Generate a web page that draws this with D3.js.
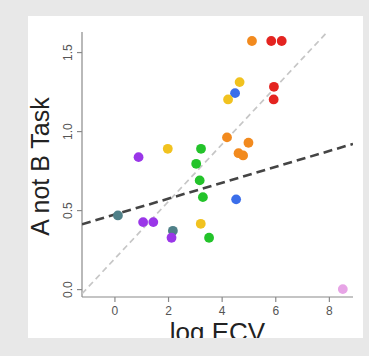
<!DOCTYPE html>
<html>
<head>
<meta charset="utf-8">
<script src="https://cdn.jsdelivr.net/npm/d3@7"></script>
<style>
  html, body { margin: 0; padding: 0; background: #e8e8e8; }
  svg { display: block; }
</style>
</head>
<body>
<svg id="chart"></svg>
<script>
// data
const logECV = [5.13, 5.85, 6.24, 4.67, 4.5, 4.24, 5.95, 5.94, 4.2, 5.0, 4.63, 4.8,
  1.99, 3.23, 0.9, 3.05, 3.18, 3.3, 4.54, 0.13, 1.07, 1.45, 2.18, 2.13, 3.22, 3.53, 8.52]
const aNotB = [1.57, 1.57, 1.57, 1.31, 1.24, 1.2, 1.28, 1.2, 0.96, 0.926, 0.86, 0.846,
  0.888, 0.888, 0.835, 0.793, 0.688, 0.582, 0.568, 0.466, 0.424, 0.424, 0.369, 0.325, 0.413, 0.325, 0.0]
const clade = ['orange', 'red', 'red', 'yellow', 'blue', 'yellow', 'red', 'red', 'orange', 'orange', 'orange', 'orange',
  'yellow', 'green', 'purple', 'green', 'green', 'green', 'blue', 'teal', 'purple', 'purple', 'teal', 'purple', 'yellow', 'green', 'pink']

const cladeColors = {
  orange: '#f28a1e', red: '#e42420', yellow: '#f1c21f', blue: '#3b6eea',
  green: '#23c32a', purple: '#9a36e8', teal: '#4f8088', pink: '#e7a4e6',
}

// fitted lines: [intercept, slope]
const fitLines = [
  { name: 'clade', coef: [0.19, 0.181], color: '#c6c6c6', width: 1.7, dash: '6,4' },
  { name: 'all', coef: [0.471, 0.0503], color: '#444', width: 2.6, dash: '9,5' },
]

const xTicks = [0, 2, 4, 6, 8]
const yTicks = [0.0, 0.5, 1.0, 1.5]

const width = 369, height = 356
const panel = { x: 28, y: 16, w: 335, h: 322 }
const plot = { left: 82, right: 353, top: 32, bottom: 297 }
const font = "'Liberation Sans', Arial, Helvetica, sans-serif"

const svg = d3.select('#chart').attr('width', width).attr('height', height)

svg.append('rect').attr('width', width).attr('height', height).attr('fill', '#e8e8e8')

svg.append('clipPath').attr('id', 'panel-clip')
  .append('rect').attr('x', panel.x).attr('y', panel.y).attr('width', panel.w).attr('height', panel.h)
svg.append('clipPath').attr('id', 'plot-clip')
  .append('rect').attr('x', plot.left).attr('y', plot.top)
  .attr('width', plot.right - plot.left).attr('height', plot.bottom - plot.top)

const g = svg.append('g').attr('clip-path', 'url(#panel-clip)')
g.append('rect').attr('x', panel.x).attr('y', panel.y).attr('width', panel.w).attr('height', panel.h)
  .attr('fill', '#fff')

const x = d3.scaleLinear().domain([-1.21, 8.9]).range([plot.left, plot.right])
const y = d3.scaleLinear().domain([-0.05, 1.627]).range([plot.bottom, plot.top])

// ─── axes (R style, L box) ───
const xAxis = g.append('g')
  .attr('transform', `translate(0,${plot.bottom})`)
  .call(d3.axisBottom(x).tickValues(xTicks).tickFormat(d3.format('d')).tickSize(5).tickPadding(4).tickSizeOuter(0))
xAxis.select('.domain').attr('d', `M${plot.left},0H${plot.right}`)

const yAxis = g.append('g')
  .attr('transform', `translate(${plot.left},0)`)
  .call(d3.axisLeft(y).tickValues(yTicks).tickFormat(d3.format('.1f')).tickSize(5).tickSizeOuter(0))
yAxis.select('.domain').attr('d', `M0,${plot.top}V${plot.bottom}`)

g.selectAll('.domain, .tick line').attr('stroke', '#8a8a8a').attr('stroke-width', 1.2)
xAxis.selectAll('.tick text')
  .attr('font-family', font).attr('font-size', '12px').attr('fill', '#555')
yAxis.selectAll('.tick text')
  .attr('font-family', font).attr('font-size', '12px').attr('fill', '#555')
  .attr('text-anchor', 'middle').attr('dy', null)
  .attr('transform', 'translate(-14,0) rotate(-90)')
  .attr('x', 0).attr('y', 0).attr('dominant-baseline', 'central')

// ─── fit lines ───
const lineGroup = g.append('g').attr('clip-path', 'url(#plot-clip)')
fitLines.forEach(l => {
  const [a, b] = l.coef
  const xs = x.domain()
  lineGroup.append('line')
    .attr('x1', x(xs[0])).attr('y1', y(a + b * xs[0]))
    .attr('x2', x(xs[1])).attr('y2', y(a + b * xs[1]))
    .attr('stroke', l.color).attr('stroke-width', l.width)
    .attr('stroke-dasharray', l.dash)
})

// ─── points ───
g.append('g').selectAll('circle')
  .data(d3.range(logECV.length))
  .join('circle')
  .attr('cx', i => x(logECV[i]))
  .attr('cy', i => y(aNotB[i]))
  .attr('r', 4.9)
  .attr('fill', i => cladeColors[clade[i]])

// ─── axis titles ───
g.append('text')
  .attr('transform', `translate(49,${(plot.top + plot.bottom) / 2 + 2}) rotate(-90)`)
  .attr('text-anchor', 'middle')
  .attr('font-family', font).attr('font-size', '25px').attr('fill', '#222')
  .text('A not B Task')

g.append('text')
  .attr('x', (plot.left + plot.right) / 2)
  .attr('y', 341)
  .attr('text-anchor', 'middle')
  .attr('font-family', font).attr('font-size', '26px').attr('fill', '#222')
  .text('log ECV')
</script>
</body>
</html>
